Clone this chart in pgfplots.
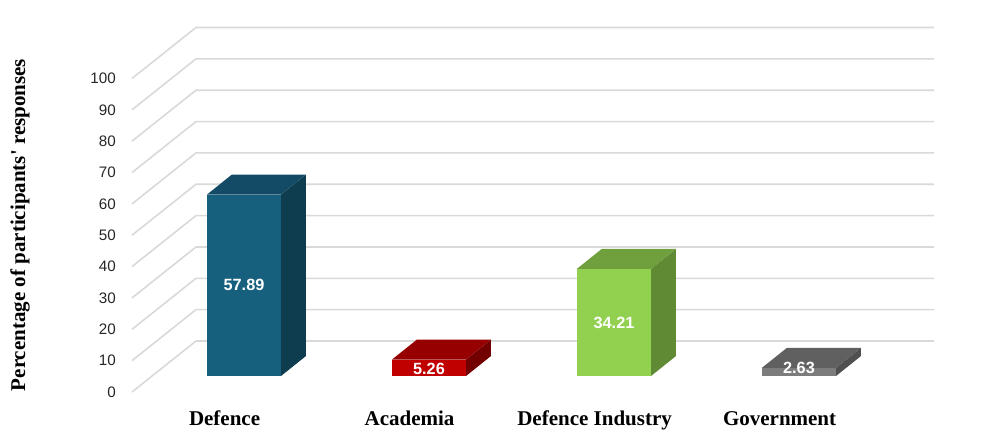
\documentclass[border=0pt]{standalone}
\usepackage{pgfplots}
\pgfplotsset{compat=1.18}
\usepackage{fontspec}
\setmainfont{Liberation Serif}
\newfontfamily\arial{Liberation Sans}
\definecolor{defF}{RGB}{22,96,126}
\definecolor{defT}{RGB}{19,75,102}
\definecolor{defS}{RGB}{14,61,80}
\definecolor{acaF}{RGB}{192,0,0}
\definecolor{acaT}{RGB}{150,0,0}
\definecolor{acaS}{RGB}{115,0,0}
\definecolor{indF}{RGB}{146,208,80}
\definecolor{indT}{RGB}{112,160,62}
\definecolor{indS}{RGB}{96,138,52}
\definecolor{govF}{RGB}{124,124,124}
\definecolor{govT}{RGB}{96,96,96}
\definecolor{govS}{RGB}{80,80,80}
\definecolor{gridc}{RGB}{217,217,217}
\begin{document}
\begin{tikzpicture}
\path[use as bounding box] (-99pt,-40.5pt) rectangle (647.25pt,294pt);
\begin{axis}[
  at={(0pt,0pt)}, anchor=south west,
  scale only axis, width=601.5pt, height=273.75pt,
  xmin=-0.6054, xmax=3.7297, ymin=-5.10, ymax=111.32,
  clip=false,
  axis line style={draw=none},
  major tick length=0pt,
  xtick={-0.105,0.895,1.895,2.895},
  xticklabels={Defence,Academia,Defence Industry,Government},
  xticklabel style={font=\fontsize{15.75}{18}\selectfont\bfseries, anchor=base, inner sep=0pt, yshift=-24.75pt},
  ytick={-5.1,4.9,14.9,24.9,34.9,44.9,54.9,64.9,74.9,84.9,94.9},
  yticklabels={0,10,20,30,40,50,60,70,80,90,100},
  yticklabel style={font=\arial\fontsize{11.4}{13}\selectfont, anchor=east, inner sep=0pt, xshift=-12pt, text=black!85},
  ylabel={Percentage of participants\textquotesingle\ responses},
  ylabel style={at={(axis description cs:-0.1397,0.4575)}, anchor=center, font=\fontsize{15.75}{18}\selectfont\bfseries},
]
% gridlines: side wall (diagonal) and back wall (horizontal)
\addplot[gridc, line width=1.2pt] coordinates {(-0.6054,-5.10) (-0.2595,11.16) (3.7297,11.16)};
\addplot[gridc, line width=1.2pt] coordinates {(-0.6054,4.90) (-0.2595,21.16) (3.7297,21.16)};
\addplot[gridc, line width=1.2pt] coordinates {(-0.6054,14.90) (-0.2595,31.16) (3.7297,31.16)};
\addplot[gridc, line width=1.2pt] coordinates {(-0.6054,24.90) (-0.2595,41.16) (3.7297,41.16)};
\addplot[gridc, line width=1.2pt] coordinates {(-0.6054,34.90) (-0.2595,51.16) (3.7297,51.16)};
\addplot[gridc, line width=1.2pt] coordinates {(-0.6054,44.90) (-0.2595,61.16) (3.7297,61.16)};
\addplot[gridc, line width=1.2pt] coordinates {(-0.6054,54.90) (-0.2595,71.16) (3.7297,71.16)};
\addplot[gridc, line width=1.2pt] coordinates {(-0.6054,64.90) (-0.2595,81.16) (3.7297,81.16)};
\addplot[gridc, line width=1.2pt] coordinates {(-0.6054,74.90) (-0.2595,91.16) (3.7297,91.16)};
\addplot[gridc, line width=1.2pt] coordinates {(-0.6054,84.90) (-0.2595,101.16) (3.7297,101.16)};
\addplot[gridc, line width=1.2pt] coordinates {(-0.6054,94.90) (-0.2595,111.16) (3.7297,111.16)};
% Defence 57.89
\addplot[ybar, bar shift=0pt, bar width=0.4, fill=defF, draw=none] coordinates {(0,57.89)};
\addplot[fill=defS, draw=none] coordinates {(0.2,0) (0.335,6.38) (0.335,64.27) (0.2,57.89)} --cycle;
\addplot[fill=defT, draw=none] coordinates {(-0.2,57.89) (0.2,57.89) (0.335,64.27) (-0.065,64.27)} --cycle;
% Academia 5.26
\addplot[ybar, bar shift=0pt, bar width=0.4, fill=acaF, draw=none] coordinates {(1,5.26)};
\addplot[fill=acaS, draw=none] coordinates {(1.2,0) (1.335,6.38) (1.335,11.64) (1.2,5.26)} --cycle;
\addplot[fill=acaT, draw=none] coordinates {(0.8,5.26) (1.2,5.26) (1.335,11.64) (0.935,11.64)} --cycle;
% Defence Industry 34.21
\addplot[ybar, bar shift=0pt, bar width=0.4, fill=indF, draw=none] coordinates {(2,34.21)};
\addplot[fill=indS, draw=none] coordinates {(2.2,0) (2.335,6.38) (2.335,40.59) (2.2,34.21)} --cycle;
\addplot[fill=indT, draw=none] coordinates {(1.8,34.21) (2.2,34.21) (2.335,40.59) (1.935,40.59)} --cycle;
% Government 2.63
\addplot[ybar, bar shift=0pt, bar width=0.4, fill=govF, draw=none] coordinates {(3,2.63)};
\addplot[fill=govS, draw=none] coordinates {(3.2,0) (3.335,6.38) (3.335,9.01) (3.2,2.63)} --cycle;
\addplot[fill=govT, draw=none] coordinates {(2.8,2.63) (3.2,2.63) (3.335,9.01) (2.935,9.01)} --cycle;
% value labels
\node[font=\arial\bfseries\fontsize{12.2}{14}\selectfont, text=white] at (axis cs:0,28.95) {57.89};
\node[font=\arial\bfseries\fontsize{12.2}{14}\selectfont, text=white] at (axis cs:1,2.35) {5.26};
\node[font=\arial\bfseries\fontsize{12.2}{14}\selectfont, text=white] at (axis cs:2,16.9) {34.21};
\node[font=\arial\bfseries\fontsize{12.2}{14}\selectfont, text=white] at (axis cs:3,2.71) {2.63};
\end{axis}
\end{tikzpicture}
\end{document}
